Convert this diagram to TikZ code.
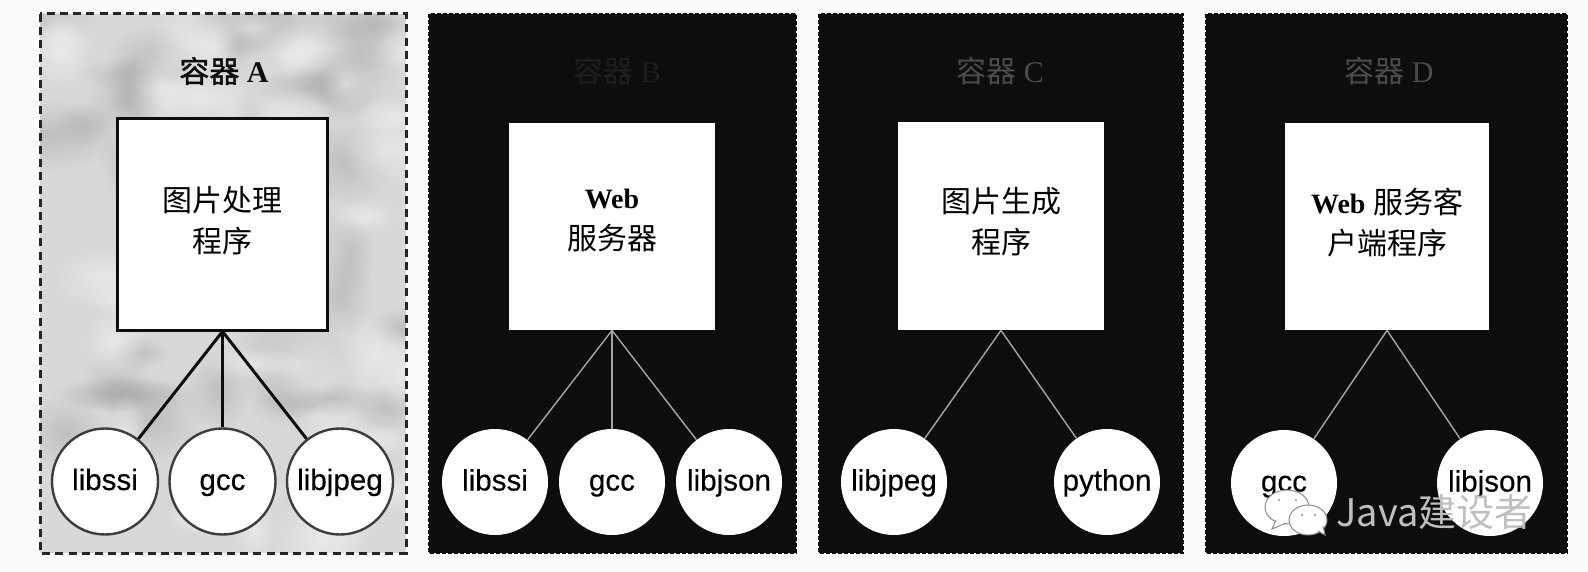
\documentclass[tikz,border=0pt]{standalone}
\usepackage{fontspec}
\setmainfont{Liberation Serif}
\newfontfamily\lsans{Liberation Sans}[FakeBold=0.3]
\newfontfamily\cjk{Noto Sans CJK SC}
\newfontfamily\cjkb{Noto Sans CJK SC}[FakeBold=1.5]
\usetikzlibrary{fadings}
\tikzfading[name=softblob,inner color=transparent!0,outer color=transparent!100]
\definecolor{ink}{HTML}{0D0D0D}
\definecolor{pale}{HTML}{D8D8D8}
\definecolor{blotch}{HTML}{9C9C9C}
\definecolor{blotchb}{HTML}{F2F2F2}
\tikzset{
  x=0.5pt,y=-0.5pt,
  darkpanel/.style={fill=ink,draw=ink,line width=1pt,dash pattern=on 2pt off 1pt},
  lightpanel/.style={fill=pale},
  panelrim/.style={draw=ink!90!white,line width=1.5pt,dash pattern=on 4pt off 2.6pt},
  appbox/.style={draw=none,fill=white,rectangle,inner sep=0pt,align=center,font=\fontsize{15}{20.5}\selectfont},
  appboxA/.style={appbox,draw=ink,line width=1.5pt},
  lib/.style={circle,fill=white,draw=none,minimum size=53pt,inner sep=0pt,text height=11pt,text depth=2.5pt,font=\lsans\fontsize{14.8}{17}\selectfont},
  libA/.style={lib,draw=ink!80!white,line width=1.2pt},
  linkA/.style={draw=ink,line width=1.5pt},
  linkW/.style={draw=black!35,line width=.7pt},
  paneltitle/.style={inner sep=0pt,font=\fontsize{15}{18}\selectfont},
  bubble/.style={draw=black!45,fill=white,line width=.5pt},
  bubbledot/.style={fill=black!45},
}
\newcommand{\ZH}[1]{{\cjk #1}}
\newcommand{\Drop}[1]{\rule[-#1]{0pt}{#1}}
\begin{document}
\begin{tikzpicture}
\useasboundingbox (0,0) rectangle (1588,572);
\fill[white!99!black] (0,0) rectangle (1588,572);

% panel A
\fill[lightpanel] (40,14) rectangle (406,553);
\begin{scope}
\clip (40,14) rectangle (406,553);
\pgfmathsetseed{17}
\foreach \i in {1,...,40}{
  \pgfmathsetmacro{\px}{40+366*rnd}
  \pgfmathsetmacro{\py}{14+420*rnd}
  \pgfmathsetmacro{\ra}{25+45*rnd}
  \pgfmathsetmacro{\rb}{15+30*rnd}
  \fill[blotch,path fading=softblob,opacity=.4] (\px,\py) ellipse [x radius=\ra,y radius=\rb];
}
\foreach \i in {1,...,40}{
  \pgfmathsetmacro{\px}{40+366*rnd}
  \pgfmathsetmacro{\py}{14+539*rnd}
  \pgfmathsetmacro{\ra}{20+35*rnd}
  \pgfmathsetmacro{\rb}{15+30*rnd}
  \fill[blotchb,path fading=softblob,opacity=.6] (\px,\py) ellipse [x radius=\ra,y radius=\rb];
}
\end{scope}
\draw[panelrim] (40,14) rectangle (406,553);

% dark panels
\draw[darkpanel] (429,14) rectangle (796,553);
\draw[darkpanel] (819,14) rectangle (1183,553);
\draw[darkpanel] (1206,14) rectangle (1567,553);

% titles
\node[paneltitle,text=ink] (titleA) at (224,71) {{\cjkb 容器} \textbf{A}};
\node[paneltitle,text=black!88] (titleB) at (617,71) {\ZH{容器} B};
\node[paneltitle,text=black!70] (titleC) at (1000,71) {\ZH{容器} C};
\node[paneltitle,text=black!70] (titleD) at (1389,71) {\ZH{容器} D};

% application boxes
\node[appboxA,minimum width=105pt,minimum height=105.5pt] (boxA) at (222.5,224.5) {\ZH{图片处理}\\\ZH{程序}\Drop{5pt}};
\node[appbox,minimum width=103pt,minimum height=103.5pt] (boxB) at (612,226.5) {\textbf{\fontsize{14}{20.5}\selectfont Web}\\\ZH{服务器}\Drop{7pt}};
\node[appbox,minimum width=103pt,minimum height=104pt] (boxC) at (1001,226) {\ZH{图片生成}\\\ZH{程序}\Drop{5.5pt}};
\node[appbox,minimum width=102pt,minimum height=103.5pt] (boxD) at (1387,226.5) {\textbf{\fontsize{14}{20.5}\selectfont Web} \ZH{服务客}\\\ZH{户端程序}\Drop{5.5pt}};

% libraries
\node[libA] (aSsi) at (105,481.5) {libssi};
\node[libA] (aGcc) at (222.5,481.5) {gcc};
\node[libA] (aJpeg) at (340,481.5) {libjpeg};
\node[lib] (bSsi) at (495,482) {libssi};
\node[lib] (bGcc) at (612,482) {gcc};
\node[lib] (bJson) at (729,482) {libjson};
\node[lib] (cJpeg) at (894,482) {libjpeg};
\node[lib] (cPy) at (1107,482) {python};
\node[lib] (dGcc) at (1284,483) {gcc};
\node[lib] (dJson) at (1490,483) {libjson};

% connectors
\draw[linkA] (boxA.south) -- (aSsi);
\draw[linkA] (boxA.south) -- (aGcc);
\draw[linkA] (boxA.south) -- (aJpeg);
\draw[linkW] (boxB.south) -- (bSsi);
\draw[linkW] (boxB.south) -- (bGcc);
\draw[linkW] (boxB.south) -- (bJson);
\draw[linkW] (boxC.south) -- (cJpeg);
\draw[linkW] (boxC.south) -- (cPy);
\draw[linkW] (boxD.south) -- (dGcc);
\draw[linkW] (boxD.south) -- (dJson);

% watermark
\draw[bubble] (1287,507) ellipse [x radius=22,y radius=17];
\draw[bubble] (1276,520) -- (1272,529) -- (1286,523);
\fill[bubbledot] (1279,500) circle (1.2) (1296,500) circle (1.2);
\draw[bubble] (1308,520) ellipse [x radius=19,y radius=15];
\draw[bubble] (1318,531) -- (1325,535) -- (1323,526);
\fill[bubbledot] (1302,515) circle (1.2) (1315,515) circle (1.2);
\node[inner sep=0pt,anchor=west,text=black!25,font=\cjk\fontsize{19}{22}\selectfont] (mark) at (1336,512) {Java建设者};
\end{tikzpicture}
\end{document}
